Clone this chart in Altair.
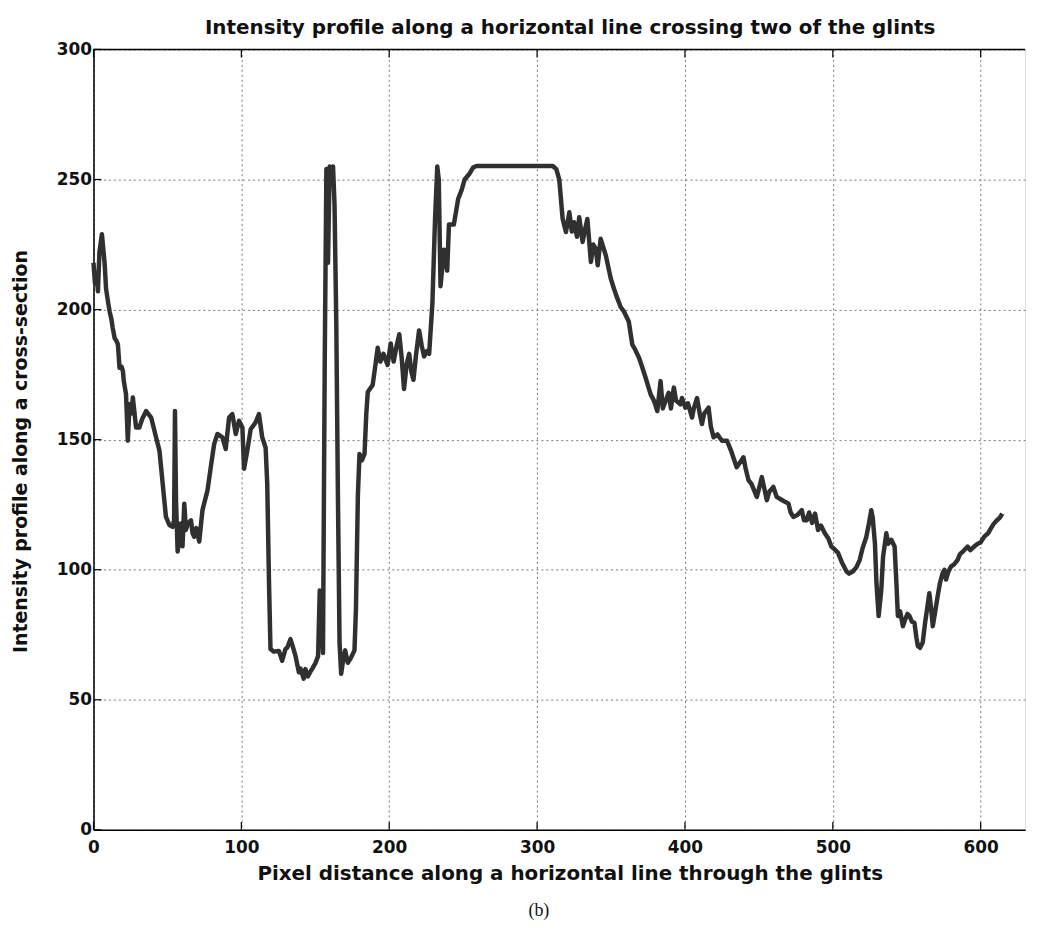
import altair as alt
import pandas as pd

# ---- data ----
pixel = [0, 1, 2, 3, 4, 5.7, 6.5, 7.5, 8.5, 9.8, 11, 12, 13, 14.3, 15.5, 16.5, 17.6, 19, 19.9, 20.5,
         22, 23.2, 24.4, 25.5, 26.6, 28.8, 31, 33, 35.6, 39, 42.3, 44.6, 46.8, 49, 51.3, 53.5, 54.5, 55.1,
         55.8, 56.9, 58, 59.1, 60.2, 61.4, 62.5, 64, 65.9, 67, 68.1, 69.5, 71.5, 73.7, 77.1, 79.3, 81.6,
         83.8, 87.2, 89.4, 91.7, 93.9, 96.2, 98.4, 100.7, 101.8, 104, 106.3, 109.6, 111.9, 114.1, 116.4,
         117.5,
         118.7, 119.7, 122, 125.4, 127.6, 129.8, 131, 133.2, 134.5, 136.6, 138.9, 140, 142.2, 143.3, 145,
         146.7, 148, 150, 151.9,
         153, 154, 155.2, 156.4, 157.5, 158.6, 159.7, 161, 162, 163, 164.2, 165.3, 166.4, 167.5, 169,
         170.2, 172, 174, 176.5, 177.5, 178.8, 179.9, 181.5, 183.3, 184.5, 185.5, 188.8, 190.5, 192.2,
         194, 196.1, 198.9, 201, 203, 205, 206.8, 208.5, 210, 211.8, 213.5, 215, 216.4, 218, 220.2, 222,
         223.6, 225.5, 227, 229.2, 231, 232.5, 233.5, 234.7, 237, 239.2, 240.4, 243.7, 246.6, 249, 251,
         254, 256.7, 259,
         310.6, 313, 315, 317.3, 319.5, 321.8,
         323.5, 325, 327, 328.5, 330.8, 332.5, 334, 336.4, 338, 339.7, 341, 343, 346.5, 349.8, 352, 354.3,
         356.5, 358.8, 362, 364.4, 366, 369, 371, 373.4, 376.8, 379, 381.3, 383.5, 385, 386.9, 389, 390.5,
         392.5, 394, 396.9, 398, 400.3, 402, 404.8, 406, 408.2, 410, 411.5, 413, 416, 417.5, 419.4, 422,
         425, 428.4, 431, 435, 437, 439.6, 441, 443, 445, 448.6, 450, 452, 455.4, 457, 459.8, 462, 465,
         468, 470, 471.5, 473.3, 476, 479, 480.5, 482.3, 484, 486, 488, 490, 492, 494.6, 497, 499, 501,
         503.6, 506, 509.2, 511, 513.7, 516, 518.2, 520, 522.7, 524.5, 526, 527, 528.5, 529.5, 531, 532.8,
         534, 536.2, 537.5, 539.5, 541.8, 543, 544, 545.5, 547.4, 549, 550.5, 551.9, 553.5, 555.2, 556.5,
         557.5, 559, 560.8, 562.5, 565.3, 566.5, 567.6, 569, 570.9, 572.5, 574.3, 575.5, 576.6, 578, 580,
         582, 584.4, 586, 588, 591.2, 593, 595.6, 598, 600, 602.4, 605, 607, 609, 611, 613, 614.6]

intensity = [218, 210, 214, 207, 222, 229, 224, 218, 208, 203, 199, 196.7, 193, 189, 188, 186.6, 177.6,
             178, 176.3, 172.5, 167.4, 149.6, 163.6, 160, 166.2, 154.7, 154.7, 158, 161, 158.5, 150.9,
             145.8, 133, 120.3, 117.2, 116.5, 119, 161, 126.7, 107, 112, 117.8, 109, 125.4, 115.3, 118,
             119, 114, 112.7, 116, 110.8, 122.9, 130.5, 139.4, 148.3, 152.2, 150.9, 146.4, 158.5, 159.8,
             152.2, 157.3, 154.7, 138.8, 145.8, 154, 156.6, 159.8, 150.9, 147, 133,
             94.9, 69.5, 68.5, 68.8, 65, 69.5, 70, 73.3, 71, 66.9, 60.6, 62, 58.1, 61.8, 59, 60.8, 62, 64,
             66.8,
             92, 88, 68, 181, 254, 218, 255, 254, 255, 240.6, 194.7, 128.6, 72, 60, 66, 69, 64.2, 66, 69,
             85, 128.6, 144.5, 142, 144.5, 160, 168.3, 171, 178, 185.3,
             180, 183, 178.7, 187, 180, 186, 190.5, 181, 169.5, 179, 183, 176, 173, 182, 192, 186, 182,
             184, 183, 202.4, 235, 255, 250, 209, 223, 215, 232.7, 232.7, 242.5, 246, 250, 252, 254.6,
             255.2,
             255.2, 254, 250, 234.8, 229.8, 237.4, 230, 233.6, 228, 235.5, 226, 231, 234.8,
             218.3, 225, 223.4, 217, 227.2, 220.8, 212, 208, 204.3, 201, 199.2, 195.4, 186.5, 185, 181.4,
             178, 173.8, 167.4, 165, 161, 172.5, 162, 164.9, 168, 162, 170, 165, 163.6, 166, 162.3, 164,
             158.5, 162, 166, 160, 156, 160, 162.3, 155, 150.9, 152, 149.6, 149.6, 146, 139.4, 141, 143.2,
             139, 134.4, 133, 128, 131, 135.6, 126.7, 130, 131.8, 128, 127, 126, 125.4, 122, 120.3, 121,
             122.9, 119, 119, 122, 118, 121.6, 115.3, 117, 114, 112, 108.9, 108, 106.4, 103, 99.4, 98.5,
             99.4, 101, 103.8, 108, 112.7, 118, 122.9, 120, 110, 95, 82.2, 92.4, 105, 114, 110, 111.5,
             108.9, 95, 82.2, 84, 78.3, 81, 83, 82.2, 80, 79.6, 74, 70.7, 70, 72, 80, 91, 85, 78.3, 83,
             89.8, 95, 98.7, 100, 96.2, 99, 101.3, 102, 103.8, 106, 107, 108.9, 107.5, 108.9, 110, 110.5,
             112.7, 114, 116, 117.8, 119, 120, 121.6]

x_ticks = [0, 100, 200, 300, 400, 500, 600]
y_ticks = [0, 50, 100, 150, 200, 250, 300]

title_text = "Intensity profile along a horizontal line crossing two of the glints"
x_title = "Pixel distance along a horizontal line through the glints"
y_title = "Intensity profile along a cross-section"
caption = "(b)"

# ---- chart ----
W, H = 937, 785
FONT = "DejaVu Sans"

df = pd.DataFrame({"pixel": pixel, "intensity": intensity})
xt = pd.DataFrame({"pixel": x_ticks})
yt = pd.DataFrame({"intensity": y_ticks})

xscale = alt.Scale(domain=[0, 630], nice=False, zero=False)
yscale = alt.Scale(domain=[0, 300], nice=False, zero=False)

x_axis = alt.Axis(values=x_ticks, title=x_title, grid=True, gridDash=[2, 3], gridColor="#777777",
                  gridOpacity=1, gridWidth=1, ticks=False, domain=True, domainColor="black",
                  domainWidth=1.5, labelFont=FONT, labelFontSize=17, labelFontWeight="bold",
                  labelColor="#111111", labelPadding=10, labelFlush=False,
                  titleFont=FONT, titleFontSize=20, titleFontWeight="bold", titleColor="#111111",
                  titlePadding=8, titleX=479)
y_axis = alt.Axis(values=y_ticks, title=y_title, grid=True, gridDash=[2, 3], gridColor="#777777",
                  gridOpacity=1, gridWidth=1, ticks=False, domain=True, domainColor="black",
                  domainWidth=1.5, labelFont=FONT, labelFontSize=17, labelFontWeight="bold",
                  labelColor="#111111", labelPadding=2, labelFlush=False,
                  titleFont=FONT, titleFontSize=19, titleFontWeight="bold", titleColor="#111111",
                  titlePadding=26, titleY=404)

line = alt.Chart(df).mark_line(color="#303030", strokeWidth=4.5, strokeJoin="round").encode(
    x=alt.X("pixel:Q", scale=xscale, axis=x_axis),
    y=alt.Y("intensity:Q", scale=yscale, axis=y_axis),
)

top_border = alt.Chart(yt).transform_filter("datum.intensity == 300").mark_rule(
    color="black", strokeWidth=1.5).encode(
    y=alt.Y("intensity:Q", scale=yscale), x=alt.value(0), x2=alt.value(W))

xt_bottom = alt.Chart(xt).mark_rule(color="black", strokeWidth=1.2).encode(
    x=alt.X("pixel:Q", scale=xscale), y=alt.value(H), y2=alt.value(H - 8))
xt_top = alt.Chart(xt).mark_rule(color="black", strokeWidth=1.2).encode(
    x=alt.X("pixel:Q", scale=xscale), y=alt.value(0), y2=alt.value(8))
yt_left = alt.Chart(yt).mark_rule(color="black", strokeWidth=1.2).encode(
    y=alt.Y("intensity:Q", scale=yscale), x=alt.value(0), x2=alt.value(8))

cap = alt.Chart(pd.DataFrame({"c": [caption]})).mark_text(
    font="Liberation Serif", fontSize=18, color="#111111").encode(
    text="c:N", x=alt.value(448), y=alt.value(867))

chart = alt.layer(line, top_border, xt_bottom, xt_top, yt_left, cap).properties(
    width=W, height=H,
    title=alt.TitleParams(title_text, font=FONT, fontSize=20, fontWeight="bold", color="#111111",
                          anchor="middle", offset=3, dx=11),
    autosize=alt.AutoSizeParams(type="none"),
    padding={"left": 86, "top": 39, "right": 6, "bottom": 90},
).configure_view(stroke=None).configure(background="white")

chart.save("out.html", embed_options={"renderer": "svg", "actions": False})
